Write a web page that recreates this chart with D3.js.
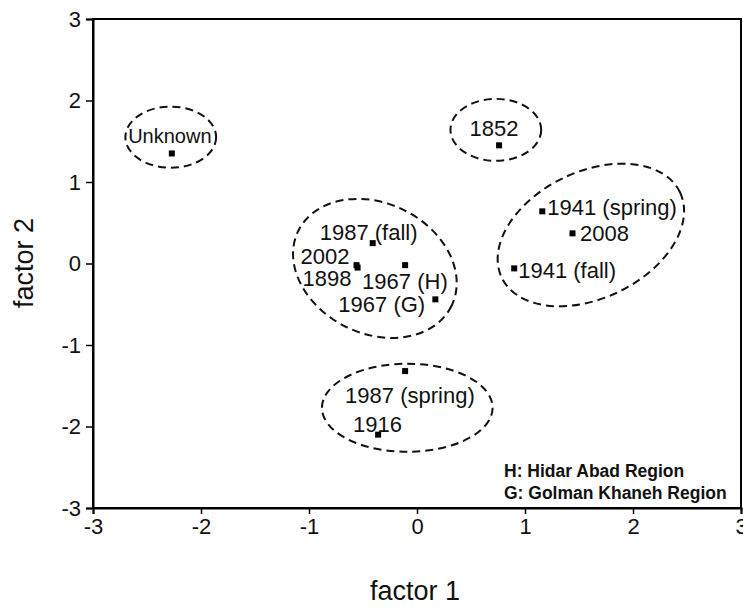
<!DOCTYPE html>
<html>
<head>
<meta charset="utf-8">
<script src="https://cdn.jsdelivr.net/npm/d3@7"></script>
<style>
  body { margin: 0; background: #fff; }
  svg { display: block; font-family: "Liberation Sans", Arial, sans-serif; }
</style>
</head>
<body>
<svg width="743" height="607"></svg>
<script>
// samples (factor scores)
const names = ['Unknown', '1852', '1987 (fall)', '2002', '1898', '1967 (H)', '1967 (G)',
               '1941 (spring)', '2008', '1941 (fall)', '1987 (spring)', '1916'];
const factor1 = [-2.27, 0.76, -0.41, -0.56, -0.55, -0.11, 0.17, 1.16, 1.44, 0.90, -0.11, -0.36];
const factor2 = [1.35, 1.45, 0.25, -0.02, -0.05, -0.02, -0.44, 0.64, 0.37, -0.06, -1.32, -2.10];

// groups drawn as dashed ellipses (centre, radii in axis units, tilt in degrees)
const groupCx = [-2.28, 0.73, -0.39, 1.61, -0.09];
const groupCy = [1.55, 1.64, -0.06, 0.35, -1.77];
const groupRx = [0.42, 0.42, 0.79, 0.915, 0.79];
const groupRy = [0.375, 0.38, 0.80, 0.777, 0.54];
const groupTilt = [0, 0, 26, -25.6, 0];

const ticks = [-3, -2, -1, 0, 1, 2, 3];
const notes = ['H: Hidar Abad Region', 'G: Golman Khaneh Region'];

// label placement relative to each marker (px)
const labelDx = [-2, -5, -53, -56, -55, -43, -97, 5, 7.5, 4, -60, -25];
const labelDy = [-10.5, -9, -3, -1, 18, 24, 12.5, 4, 7.5, 10, 32, -3];

const svg = d3.select('svg');
const x = d3.scaleLinear().domain([-3, 3]).range([93, 741]);
const y = d3.scaleLinear().domain([-3, 3]).range([508, 19]);

// frame
svg.append('rect')
    .attr('x', x(-3)).attr('y', y(3))
    .attr('width', x(3) - x(-3)).attr('height', y(-3) - y(3))
    .attr('fill', 'none').attr('stroke', '#000').attr('stroke-width', 2);

const xAxis = svg.append('g')
    .attr('transform', `translate(0,${y(-3)})`)
    .call(d3.axisBottom(x).tickValues(ticks).tickFormat(d3.format('d')).tickSize(6).tickPadding(4));
const yAxis = svg.append('g')
    .attr('transform', `translate(${x(-3)},0)`)
    .call(d3.axisLeft(y).tickValues(ticks).tickFormat(d3.format('d')).tickSize(7).tickPadding(5));

[xAxis, yAxis].forEach(g => {
    g.select('.domain').attr('stroke-width', 2);
    g.selectAll('.tick line').attr('stroke-width', 1.5);
    g.selectAll('.tick text')
        .attr('font-size', 22)
        .attr('font-family', '"Liberation Sans", Arial, sans-serif')
        .attr('fill', '#111')
        .text(d => d < 0 ? '-' + Math.abs(d) : d);
});

// dashed ellipses
svg.append('g').selectAll('ellipse')
    .data(groupCx)
    .join('ellipse')
    .attr('cx', 0).attr('cy', 0)
    .attr('rx', (d, i) => x(groupRx[i]) - x(0))
    .attr('ry', (d, i) => y(0) - y(groupRy[i]))
    .attr('transform', (d, i) => `translate(${x(d)},${y(groupCy[i])}) rotate(${groupTilt[i]})`)
    .attr('fill', 'none')
    .attr('stroke', '#111')
    .attr('stroke-width', 2)
    .attr('stroke-dasharray', '8,5');

// markers
svg.append('g').selectAll('rect')
    .data(names)
    .join('rect')
    .attr('x', (d, i) => x(factor1[i]) - 3)
    .attr('y', (d, i) => y(factor2[i]) - 3)
    .attr('width', 6).attr('height', 6)
    .attr('fill', '#000');

// point labels
svg.append('g').selectAll('text')
    .data(names)
    .join('text')
    .attr('x', (d, i) => x(factor1[i]) + labelDx[i])
    .attr('y', (d, i) => y(factor2[i]) + labelDy[i])
    .attr('text-anchor', (d, i) => i < 2 ? 'middle' : 'start')
    .attr('font-size', (d, i) => i === 0 ? 20 : 22)
    .attr('fill', '#111')
    .text(d => d);

// legend notes
svg.append('g').selectAll('text')
    .data(notes)
    .join('text')
    .attr('x', 504)
    .attr('y', (d, i) => 477 + i * 22)
    .attr('font-size', 17.5)
    .attr('font-weight', 'bold')
    .attr('fill', '#111')
    .text(d => d);

// axis titles
svg.append('text')
    .attr('x', 415).attr('y', 600)
    .attr('text-anchor', 'middle')
    .attr('font-size', 27)
    .attr('fill', '#111')
    .text('factor 1');
svg.append('text')
    .attr('transform', 'translate(33,263) rotate(-90)')
    .attr('text-anchor', 'middle')
    .attr('font-size', 27)
    .attr('fill', '#111')
    .text('factor 2');
</script>
</body>
</html>
